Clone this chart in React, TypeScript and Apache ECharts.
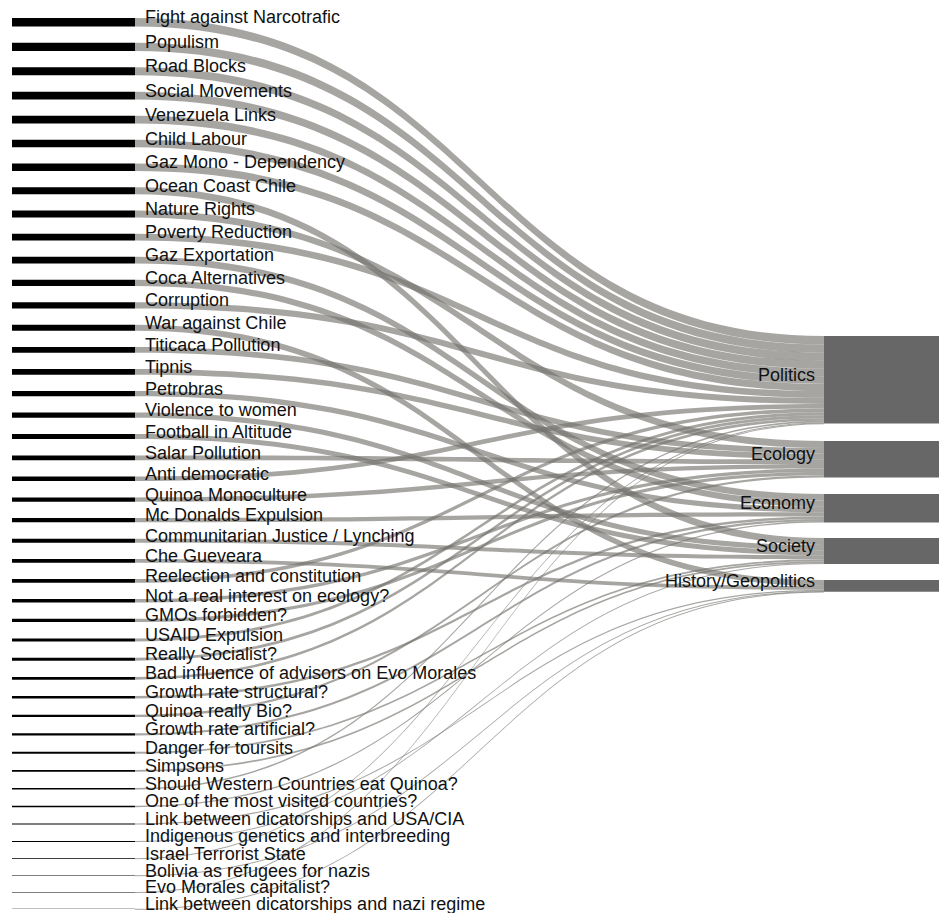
import React, { useEffect, useRef } from "react";
import * as echarts from "echarts";

// Topics (left column), in the order shown
const topics = [
  "Fight against Narcotrafic",
  "Populism",
  "Road Blocks",
  "Social Movements",
  "Venezuela Links",
  "Child Labour",
  "Gaz Mono - Dependency",
  "Ocean Coast Chile",
  "Nature Rights",
  "Poverty Reduction",
  "Gaz Exportation",
  "Coca Alternatives",
  "Corruption",
  "War against Chile",
  "Titicaca Pollution",
  "Tipnis",
  "Petrobras",
  "Violence to women",
  "Football in Altitude",
  "Salar Pollution",
  "Anti democratic",
  "Quinoa Monoculture",
  "Mc Donalds Expulsion",
  "Communitarian Justice / Lynching",
  "Che Gueveara",
  "Reelection and constitution",
  "Not a real interest on ecology?",
  "GMOs forbidden?",
  "USAID Expulsion",
  "Really Socialist?",
  "Bad influence of advisors on Evo Morales",
  "Growth rate structural?",
  "Quinoa really Bio?",
  "Growth rate artificial?",
  "Danger for toursits",
  "Simpsons",
  "Should Western Countries eat Quinoa?",
  "One of the most visited countries?",
  "Link between dicatorships and USA/CIA",
  "Indigenous genetics and interbreeding",
  "Israel Terrorist State",
  "Bolivia as refugees for nazis",
  "Evo Morales capitalist?",
  "Link between dicatorships and nazi regime",
];

// Estimated weight of each topic (band thickness)
const topicValues = [
  44, 43, 42, 41, 40, 39, 38, 37, 36, 35, 34, 33, 32, 31, 30, 29, 28, 27, 26, 25, 24, 23,
  22, 21, 20, 19, 18, 17, 16, 15, 14, 13, 12, 11, 10, 9, 8, 7, 6, 5, 4, 3, 2, 1,
];

// Categories (right column)
const categories = ["Politics", "Ecology", "Economy", "Society", "History/Geopolitics"];

// Category each topic flows into
const topicCategory = [
  "Politics", "Politics", "Politics", "Politics", "Politics",
  "Politics", "Politics", "Society", "Ecology", "Politics",
  "Economy", "Economy", "Politics", "History/Geopolitics", "Ecology",
  "Ecology", "Economy", "Society", "Society", "Ecology",
  "Politics", "Ecology", "Economy", "Society", "History/Geopolitics",
  "Politics", "Ecology", "Ecology", "Politics", "Politics",
  "Politics", "Economy", "Ecology", "Economy", "Society",
  "Society", "Politics", "Economy", "History/Geopolitics", "Society",
  "Politics", "History/Geopolitics", "Politics", "History/Geopolitics",
];

// layout: pixel top of each category block on the page
const CHART_TOP = 18;
const CHART_BOTTOM = 4;
const PAGE_H = 913;
const categoryTopPx = [336, 441, 494, 538, 580];

const FONT = "'Liberation Sans', Arial, Helvetica, sans-serif";

export default function App() {
  const ref = useRef<HTMLDivElement>(null);

  useEffect(() => {
    if (!ref.current) return;
    const chart = echarts.init(ref.current, undefined, { renderer: "svg" });
    const innerH = PAGE_H - CHART_TOP - CHART_BOTTOM;

    const nodes: any[] = [];
    topics.forEach((t) => {
      nodes.push({
        name: t,
        itemStyle: { color: "#000000", borderWidth: 0 },
        label: { position: "right", distance: 10 },
      });
    });
    categories.forEach((c, i) => {
      nodes.push({
        name: c,
        localY: (categoryTopPx[i] - CHART_TOP) / innerH,
        itemStyle: { color: "#676767", borderWidth: 0 },
        label: { position: "left", distance: 9 },
      });
    });

    const links = topics.map((t, i) => ({
      source: t,
      target: topicCategory[i],
      value: topicValues[i],
    }));

    chart.setOption({
      animation: false,
      tooltip: { show: false },
      series: [
        {
          type: "sankey",
          left: 12,
          right: -8,
          top: CHART_TOP,
          bottom: CHART_BOTTOM,
          nodeWidth: 123,
          nodeGap: 16.3,
          layoutIterations: 0,
          draggable: false,
          emphasis: { disabled: true },
          itemStyle: { borderWidth: 0 },
          lineStyle: { color: "#74726e", opacity: 0.64, curveness: 0.5 },
          label: {
            fontSize: 18,
            lineHeight: 16,
            fontFamily: FONT,
            color: "#111111",
            offset: [0, -5],
          },
          data: nodes,
          links,
        },
      ],
    });
    return () => chart.dispose();
  }, []);

  return (
    <div
      ref={ref}
      style={{ position: "absolute", left: 0, top: 0, width: 939, height: 913, background: "#fff" }}
    />
  );
}
